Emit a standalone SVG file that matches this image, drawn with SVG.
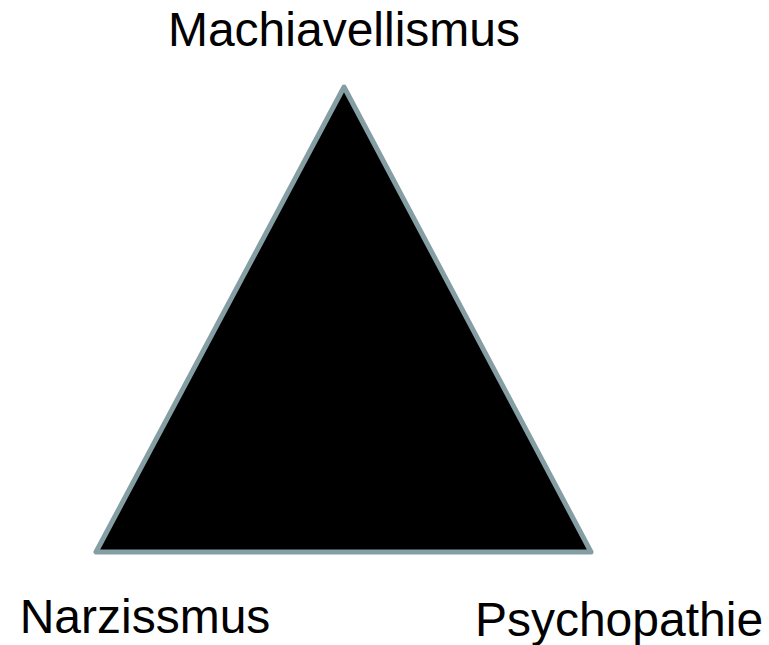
<svg xmlns="http://www.w3.org/2000/svg" width="769" height="645" viewBox="0 0 769 645">
<style>
.lbl{font-family:"Liberation Sans",Arial,sans-serif;font-size:48px;fill:#000;text-anchor:middle}
</style>
<rect width="769" height="645" fill="#fff"/>
<g id="triangle">
<polygon points="344,87 96,552 591,552" fill="#000" stroke="#849ea3" stroke-width="5" stroke-linejoin="round"/>
</g>
<g id="connectors"></g>
<g id="machiavellismus"><text class="lbl" x="344" y="46">Machiavellismus</text></g>
<g id="narzissmus"><text class="lbl" x="145" y="633">Narzissmus</text></g>
<g id="psychopathie"><text class="lbl" x="619" y="636">Psychopathie</text></g>
</svg>
